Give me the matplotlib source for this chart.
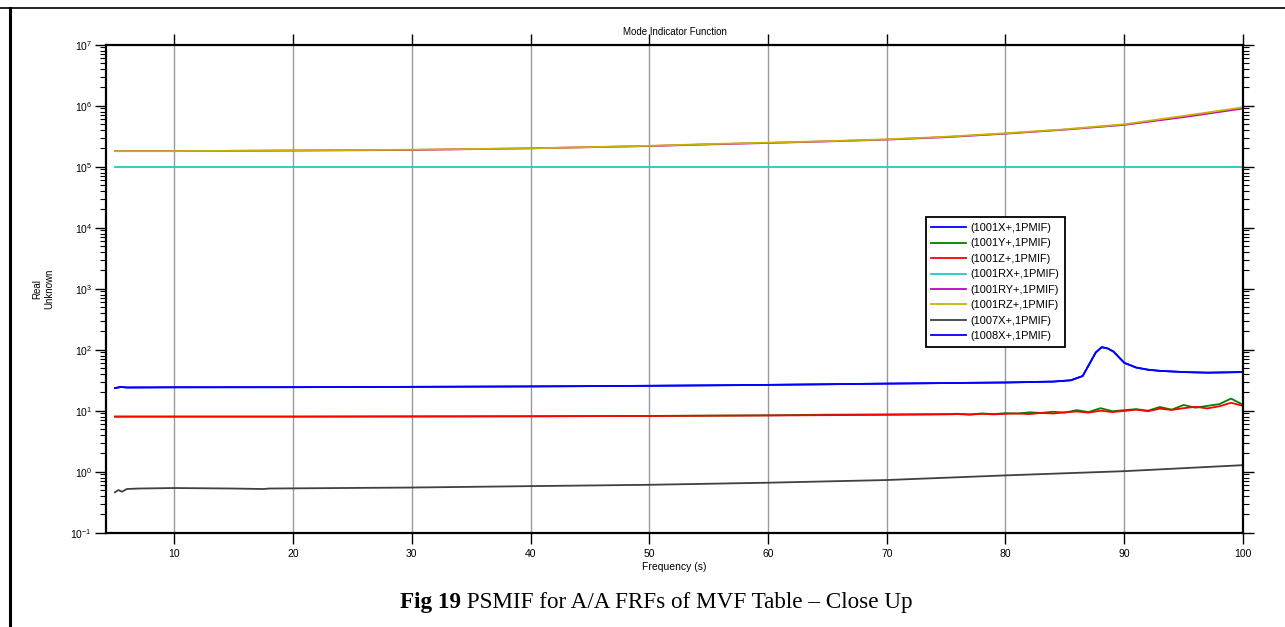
import matplotlib
matplotlib.use('Agg')
import matplotlib.pyplot as plt
from matplotlib.lines import Line2D
from matplotlib.ticker import LogLocator, NullFormatter

plt.rcParams['font.family'] = ['Liberation Sans', 'DejaVu Sans']
plt.rcParams['axes.unicode_minus'] = False

# --- data ---
freq = [5, 10, 20, 30, 40, 50, 55, 60, 65, 70, 75, 80, 85, 90, 95, 100]
ry_vals = [1.8e5, 1.8e5, 1.84e5, 1.88e5, 2.0e5, 2.18e5, 2.32e5, 2.45e5, 2.6e5, 2.78e5,
           3.05e5, 3.48e5, 4.05e5, 4.85e5, 6.5e5, 9.0e5]
rz_vals = [1.8e5, 1.8e5, 1.85e5, 1.9e5, 2.0e5, 2.2e5, 2.35e5, 2.48e5, 2.62e5, 2.81e5,
           3.1e5, 3.53e5, 4.1e5, 4.96e5, 6.8e5, 9.4e5]
rx_vals = [1.0e5, 1.0e5, 1.0e5, 1.0e5, 1.0e5, 1.0e5, 1.0e5, 1.0e5, 1.0e5, 1.0e5,
           1.0e5, 1.0e5, 1.0e5, 1.0e5, 1.0e5, 1.0e5]

freq_x = [5, 5.5, 6, 10, 20, 30, 40, 50, 60, 70, 80, 84, 85.5, 86.5, 87.1, 87.6, 88.1, 88.6,
          89.1, 90, 91, 92, 93, 95, 97, 100]
x1008_vals = [23.5, 24.5, 24.0, 24.2, 24.3, 24.6, 25.0, 25.6, 26.5, 27.8, 29.0, 30.0, 31.5, 37.0,
              60.0, 90.0, 110.0, 105.0, 93.0, 61.0, 51.0, 47.0, 45.0, 43.0, 42.0, 43.0]
x1001_vals = x1008_vals

freq_yz = [5, 20, 30, 40, 50, 60, 65, 70,
           75, 76, 77, 78, 79, 80, 81, 82, 83, 84, 85, 86, 87, 88, 89, 90, 91, 92, 93, 94, 95,
           96, 97, 98, 99, 100]
y_vals = [8.0, 8.0, 8.05, 8.1, 8.2, 8.4, 8.6, 8.7,
          8.8, 8.9, 8.7, 9.0, 8.8, 9.1, 9.0, 9.4, 9.2, 9.6, 9.3, 10.2, 9.5, 11.0, 9.8, 10.2,
          10.6, 10.0, 11.5, 10.4, 12.4, 11.2, 12.0, 12.8, 15.8, 12.5]
z_vals = [8.0, 8.0, 8.05, 8.1, 8.2, 8.35, 8.45, 8.55,
          8.7, 8.8, 8.6, 8.9, 8.7, 8.9, 9.0, 8.8, 9.2, 9.0, 9.4, 9.7, 9.3, 10.0, 9.5, 9.9,
          10.4, 9.8, 10.8, 10.3, 11.0, 11.6, 10.9, 11.8, 13.5, 12.0]

freq_g = [5, 5.3, 5.6, 6, 7, 10, 15, 17.5, 18, 30, 40, 50, 60, 70, 80, 90, 100]
x1007_vals = [0.46, 0.5, 0.47, 0.52, 0.53, 0.54, 0.53, 0.52, 0.53, 0.55, 0.58, 0.61, 0.66,
              0.73, 0.87, 1.02, 1.28]

labels = ['(1001X+,1PMIF)', '(1001Y+,1PMIF)', '(1001Z+,1PMIF)', '(1001RX+,1PMIF)',
          '(1001RY+,1PMIF)', '(1001RZ+,1PMIF)', '(1007X+,1PMIF)', '(1008X+,1PMIF)']
colors = ['#0000ff', '#008000', '#ff0000', '#20c8c8', '#c000c0', '#c8b400', '#404040', '#0000ff']

fig = plt.figure(figsize=(12.85, 6.27), dpi=100)
ax = fig.add_axes([0.0825, 0.1504, 0.8848, 0.7783])

series = [(freq_x, x1001_vals), (freq_yz, y_vals), (freq_yz, z_vals), (freq, rx_vals),
          (freq, ry_vals), (freq, rz_vals), (freq_g, x1007_vals), (freq_x, x1008_vals)]
for (fx, fy), lab, col in zip(series, labels, colors):
    ax.plot(fx, fy, color=col, lw=1.3, label=lab)

ax.set_yscale('log')
ax.set_ylim(1e-1, 1e7)
ax.set_xlim(4.25, 100)
ax.set_xticks(range(10, 101, 10))
ax.yaxis.set_major_locator(LogLocator(base=10, numticks=20))
ax.yaxis.set_minor_locator(LogLocator(base=10, subs=range(2, 10), numticks=100))
ax.yaxis.set_minor_formatter(NullFormatter())
ax.grid(axis='x', color='#9a9a9a', lw=1)

ax.tick_params(axis='x', which='both', direction='out', top=True, length=8, width=1,
               labelsize=7.5, pad=4)
ax.tick_params(axis='y', which='major', direction='out', right=True, length=8, width=1,
               labelsize=7.5, pad=2)
ax.tick_params(axis='y', which='minor', direction='out', right=True, length=4, width=0.8)
for sp in ax.spines.values():
    sp.set_linewidth(1.6)

ax.set_title('Mode Indicator Function', fontsize=7, pad=7)
ax.set_xlabel('Frequency (s)', fontsize=7.5, labelpad=2)
ax.set_ylabel('Real\nUnknown', fontsize=7, labelpad=12)

leg = ax.legend(loc='upper left', bbox_to_anchor=(0.716, 0.662), bbox_transform=fig.transFigure,
                fontsize=7.9, fancybox=False, framealpha=1, edgecolor='black',
                handlelength=3.2, labelspacing=0.5, borderpad=0.5, handletextpad=0.4)
leg.get_frame().set_linewidth(1.3)

# page frame lines from the surrounding document
fig.add_artist(Line2D([0, 1], [1 - 8 / 627, 1 - 8 / 627], color='black', lw=1.2,
                      transform=fig.transFigure))
fig.add_artist(Line2D([10 / 1285, 10 / 1285], [0, 1 - 8 / 627], color='black', lw=2.2,
                      transform=fig.transFigure))

# caption
cap = fig.text(0.311, 0.03, 'Fig 19', fontsize=16.7, fontweight='bold',
               family='Liberation Serif', va='baseline')
ax.annotate(' PSMIF for A/A FRFs of MVF Table \u2013 Close Up', xy=(1, 0), xycoords=cap,
            fontsize=16.7, family='Liberation Serif', va='bottom', annotation_clip=False)

fig.savefig('out.png', dpi=100)
